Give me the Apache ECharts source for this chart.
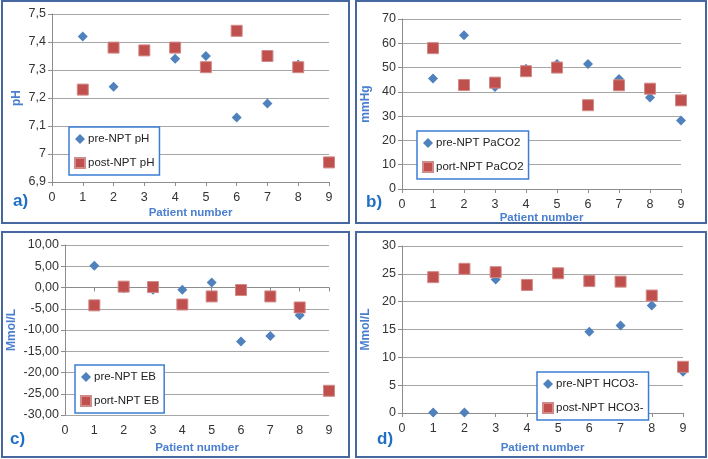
<!DOCTYPE html>
<html>
<head>
<meta charset="utf-8">
<script src="https://cdn.jsdelivr.net/npm/echarts@6/dist/echarts.min.js"></script>
<style>
html,body{margin:0;padding:0;background:#fff;}
#c{width:708px;height:459px;}
</style>
</head>
<body>
<div id="c"></div>
<script>
const patients = [1, 2, 3, 4, 5, 6, 7, 8, 9];
// a) pH
const prePH  = [7.42, 7.24, null, 7.34, 7.35, 7.13, 7.18, 7.32, null];
const postPH = [7.23, 7.38, 7.37, 7.38, 7.31, 7.44, 7.35, 7.31, 6.97];
// b) PaCO2 (mmHg)
const prePaCO2  = [45.5, 63.3, 42.0, 49.5, 51.5, 51.5, 45.3, 37.7, 28.2];
const postPaCO2 = [58.0, 42.8, 43.8, 48.5, 50.0, 34.5, 42.7, 41.3, 36.5];
// c) EB (Mmol/L)
const preEB  = [5.1, -0.2, -0.5, -0.5, 1.2, -12.7, -11.4, -6.5, null];
const postEB = [-4.2, 0.2, 0.1, -4.0, -2.1, -0.6, -2.1, -4.7, -24.3];
// d) HCO3- (Mmol/L)
const preHCO3  = [0.1, 0.1, 24.0, null, null, 14.6, 15.7, 19.3, 7.4];
const postHCO3 = [24.4, 25.9, 25.3, 23.0, 25.1, 23.7, 23.6, 21.1, 8.3];

const names = {
  a: ['pre-NPT pH', 'post-NPT pH'],
  b: ['pre-NPT PaCO2', 'port-NPT PaCO2'],
  c: ['pre-NPT EB', 'port-NPT EB'],
  d: ['pre-NPT HCO3-', 'post-NPT HCO3-']
};
const yTitles = ['pH', 'mmHg', 'Mmol/L', 'Mmol/L'];
const xTitle = 'Patient number';
const panelLetters = ['a)', 'b)', 'c)', 'd)'];

const BLUE = '#4F81BD', RED = '#C0504D';
const FONT = 'Liberation Sans, Arial, sans-serif';
const TITLE_C = '#4A7FCF';

function pairs(vals) { return patients.map((p, i) => [p, vals[i]]); }
const comma1 = v => String(Math.round(v * 10) / 10).replace('.', ',');
const comma2 = v => (Math.round(v * 100) / 100).toFixed(2).replace('.', ',');
const plain = v => String(Math.round(v));

const grids = [
  { left: 52, top: 14, width: 277, height: 168 },
  { left: 402, top: 19, width: 279, height: 170 },
  { left: 65, top: 245, width: 264, height: 170 },
  { left: 402, top: 246, width: 281, height: 167 }
];
const yRanges = [
  { min: 6.9, max: 7.5, interval: 0.1, fmt: comma1 },
  { min: 0, max: 70, interval: 10, fmt: plain },
  { min: -30, max: 10, interval: 5, fmt: comma2 },
  { min: 0, max: 30, interval: 5, fmt: plain }
];
const xNameGaps = [25, 21, 27, 29];
const yNameGaps = [29, 30, 47, 30];

const xAxes = grids.map((g, i) => ({
  type: 'value', gridIndex: i, min: 0, max: 9, interval: 1,
  name: xTitle, nameLocation: 'middle', nameGap: xNameGaps[i],
  nameTextStyle: { color: TITLE_C, fontWeight: 'bold', fontSize: 11.5, fontFamily: FONT },
  axisLine: { lineStyle: { color: '#8C8C8C' } },
  axisTick: { show: true, length: 4, lineStyle: { color: '#8C8C8C' } },
  axisLabel: { color: '#333', fontSize: 12.5, fontFamily: FONT, margin: 9 },
  splitLine: { show: false }
}));
const yAxes = grids.map((g, i) => ({
  type: 'value', gridIndex: i, min: yRanges[i].min, max: yRanges[i].max, interval: yRanges[i].interval,
  name: yTitles[i], nameLocation: 'middle', nameGap: yNameGaps[i], nameRotate: 90,
  nameTextStyle: { color: TITLE_C, fontWeight: 'bold', fontSize: 12, fontFamily: FONT },
  axisLine: { show: true, lineStyle: { color: '#8C8C8C' } },
  axisTick: { show: true, length: 4, lineStyle: { color: '#8C8C8C' } },
  axisLabel: { color: '#333', fontSize: 12.5, fontFamily: FONT, margin: 6, formatter: yRanges[i].fmt },
  splitLine: { show: true, lineStyle: { color: '#A6A6A6' } }
}));

const seriesData = [
  [prePH, postPH], [prePaCO2, postPaCO2], [preEB, postEB], [preHCO3, postHCO3]
];
const keys = ['a', 'b', 'c', 'd'];
const series = [];
seriesData.forEach((pair, i) => {
  series.push({
    name: names[keys[i]][0], type: 'scatter', xAxisIndex: i, yAxisIndex: i,
    symbol: 'diamond', symbolSize: [10, 10], data: pairs(pair[0]),
    itemStyle: { color: BLUE, opacity: 1 }, z: 2
  });
  series.push({
    name: names[keys[i]][1], type: 'scatter', xAxisIndex: i, yAxisIndex: i,
    symbol: 'rect', symbolSize: [11, 11], data: pairs(pair[1]),
    itemStyle: { color: RED, opacity: 1, borderColor: '#D08A88', borderWidth: 1 }, z: 3
  });
});

const legendPos = [
  { left: 69, top: 127 },
  { left: 417, top: 131 },
  { left: 75, top: 365 },
  { left: 537, top: 372 }
];
const legends = legendPos.map((p, i) => ({
  left: p.left, top: p.top, orient: 'vertical',
  data: [{ name: names[keys[i]][0], icon: 'diamond' }, { name: names[keys[i]][1], icon: 'rect' }],
  itemWidth: 10, itemHeight: 10, itemGap: 12,
  padding: [6, 5, 6, 5],
  backgroundColor: '#fff', borderColor: '#3C7ED3', borderWidth: 1.5, borderRadius: 0,
  textStyle: { color: '#222', fontSize: 11.5, fontFamily: FONT, padding: [0, 0, 0, -2] },
  selectedMode: false
}));

const panels = [
  { x: 2, y: 1, w: 347, h: 222 },
  { x: 356, y: 1, w: 350, h: 222 },
  { x: 2, y: 232, w: 347, h: 225 },
  { x: 356, y: 232, w: 350, h: 225 }
];
const letterPos = [[13, 203], [366, 204], [10, 441], [377, 441]];
const graphics = [];
panels.forEach(p => graphics.push({
  type: 'rect', shape: { x: p.x, y: p.y, width: p.w, height: p.h },
  style: { fill: 'none', stroke: '#46679F', lineWidth: 2 }, z: 0, silent: true
}));
letterPos.forEach((pos, i) => graphics.push({
  type: 'text', left: pos[0], top: pos[1] - 10,
  style: { text: panelLetters[i], fill: '#1F6FC4', font: 'bold 17px ' + FONT }, z: 10
}));

const chart = echarts.init(document.getElementById('c'), null, { renderer: 'canvas' });
chart.setOption({
  animation: false,
  backgroundColor: '#fff',
  grid: grids,
  xAxis: xAxes,
  yAxis: yAxes,
  legend: legends,
  series: series,
  graphic: graphics
});
</script>
</body>
</html>
